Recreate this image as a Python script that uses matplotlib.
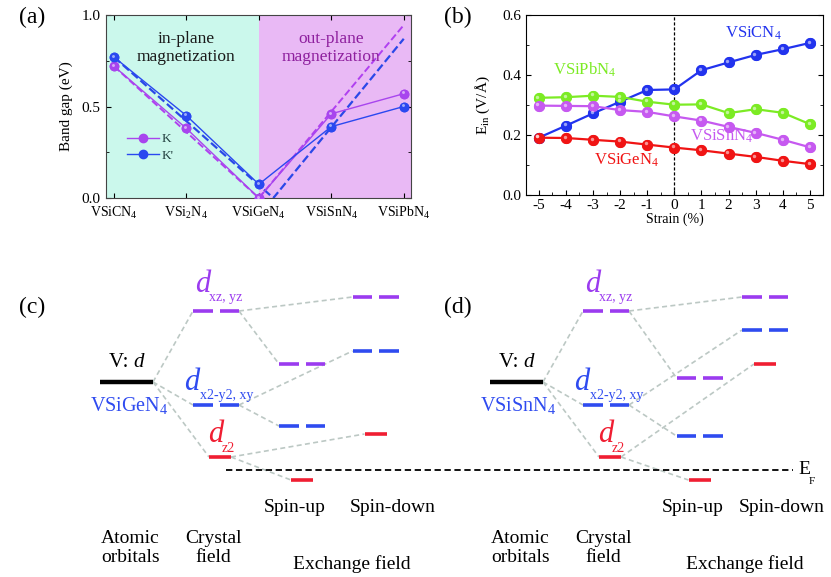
import numpy as np
import matplotlib.pyplot as plt
import matplotlib.transforms as mtransforms

plt.rcParams['font.family'] = ['Liberation Serif', 'DejaVu Serif']
plt.rcParams['mathtext.fontset'] = 'custom'
plt.rcParams['mathtext.rm'] = 'Liberation Serif'
plt.rcParams['mathtext.it'] = 'Liberation Serif:italic'

# ---- (a) band gaps ----
materials = ['VSiCN$_4$', 'VSi$_2$N$_4$', 'VSiGeN$_4$', 'VSiSnN$_4$', 'VSiPbN$_4$']
gap_K = [0.72, 0.38, 0.0, 0.46, 0.57]
gap_Kp = [0.77, 0.45, 0.075, 0.39, 0.50]
# linear guide lines (dashed)
guide_x_K = [0, 2, 4]
guide_K = [0.72, 0.0, 0.945]
guide_x_Kp = [0, 2.2, 4]
guide_Kp = [0.77, 0.0, 0.87]

# ---- (b) E_in vs strain ----
strain = [-5, -4, -3, -2, -1, 0, 1, 2, 3, 4, 5]
ein_CN = [0.191, 0.231, 0.272, 0.311, 0.350, 0.352, 0.416, 0.442, 0.467, 0.486, 0.507]
ein_Pb = [0.324, 0.326, 0.331, 0.327, 0.311, 0.301, 0.302, 0.273, 0.286, 0.274, 0.236]
ein_Sn = [0.298, 0.297, 0.296, 0.283, 0.277, 0.262, 0.248, 0.227, 0.207, 0.184, 0.159]
ein_Ge = [0.191, 0.190, 0.184, 0.178, 0.168, 0.158, 0.149, 0.138, 0.127, 0.114, 0.103]

# ---- (c)/(d) level schemes, energies relative to E_F (arb. units) ----
atomic_E = 8.8
crystal_E = [15.9, 6.5, 1.3]          # d_xz,yz ; d_x2-y2,xy ; d_z2
up_E_c = [10.6, 4.4, -1.0]
down_E_c = [17.3, 11.9, 3.6]
up_E_d = [9.2, 3.4, -1.0]
down_E_d = [17.3, 14.0, 10.6]
cols_c = [126.5, 216, 302, 375.5]     # atomic, crystal, spin-up, spin-down
cols_d = [516.5, 606, 699.5, 765]

c_pur = '#9B3BEF'
c_blu = '#2F4BF0'
c_red = '#F01E32'
lvl_colors = [c_pur, c_blu, c_red]


def balls(ax, x, y, color, ms):
    ax.plot(x, y, 'o', color=color, ms=ms, mec=color, zorder=4)
    off = mtransforms.offset_copy(ax.transData, fig=ax.figure, x=-0.9, y=0.9, units='points')
    ax.plot(x, y, 'o', color='white', ms=ms * 0.35, mec='none', alpha=0.55,
            transform=off, zorder=5)


fig = plt.figure(figsize=(8.31, 5.77), dpi=100)

# ================= (a) =================
ax1 = fig.add_axes([106 / 831, 1 - 198 / 577, 305 / 831, 183 / 577])
xa = np.arange(len(materials))
ax1.set_xlim(-0.11, 4.1)
ax1.set_ylim(0, 1.0)
ax1.axvspan(-0.11, xa[2], color='#CBF8EC', lw=0, zorder=0)
ax1.axvspan(xa[2], 4.1, color='#E9B9F5', lw=0, zorder=0)
ax1.plot(guide_x_K, guide_K, '--', color='#B040F0', lw=1.4, zorder=2)
ax1.plot(guide_x_Kp, guide_Kp, '--', color='#2A48E8', lw=1.6, zorder=2)
ax1.plot(xa, gap_K, '-', color='#A845EE', lw=1.0, label='K', marker='o', ms=6, zorder=3)
ax1.plot(xa, gap_Kp, '-', color='#2A48F0', lw=1.0, label="K'", marker='o', ms=6, zorder=3)
balls(ax1, xa, gap_K, '#A845EE', 6)
balls(ax1, xa, gap_Kp, '#2A48F0', 6)
ax1.set_xticks(xa)
ax1.set_xticklabels(materials, fontsize=10)
ax1.set_yticks([0, 0.5, 1.0])
ax1.set_yticklabels(['0.0', '0.5', '1.0'], fontsize=11)
ax1.set_yticks([0.25, 0.75], minor=True)
ax1.tick_params(axis='x', direction='in', top=True, length=3.5, pad=5)
ax1.tick_params(axis='y', direction='in', right=True, length=3.5, pad=4)
ax1.tick_params(which='minor', direction='in', right=True, length=2.5)
for s in ax1.spines.values():
    s.set_color('#444444')
ax1.set_ylabel('Band gap (eV)', fontsize=11, labelpad=6)
ax1.text(1.0, 0.82, 'in-plane\nmagnetization', ha='center', va='center',
         fontsize=12.5, color='#1A1A1A', linespacing=1.1)
ax1.text(3.0, 0.82, 'out-plane\nmagnetization', ha='center', va='center',
         fontsize=12.5, color='#8E1F9E', linespacing=1.1)
ax1.legend(loc='upper left', bbox_to_anchor=(0.03, 0.42), frameon=False,
           fontsize=9.5, handlelength=2.4, handletextpad=0.2, labelspacing=0.35,
           labelcolor='#224040')
fig.text(32 / 831, 1 - 17 / 577, '(a)', ha='center', va='center', fontsize=17)

# ================= (b) =================
ax2 = fig.add_axes([526 / 831, 1 - 195 / 577, 297 / 831, 180 / 577])
ax2.set_xlim(-5.47, 5.48)
ax2.set_ylim(0, 0.6)
ax2.axvline(0, color='black', ls='--', lw=0.9, dashes=(2.5, 1.5), zorder=1)
series = [(ein_CN, '#2233EE'), (ein_Pb, '#7CEB24'), (ein_Sn, '#C659F0'), (ein_Ge, '#F01414')]
for vals, col in series:
    ax2.plot(strain, vals, '-', color=col, lw=1.6, marker='o', ms=7, zorder=3)
    balls(ax2, strain, vals, col, 7)
ax2.set_xticks(strain)
ax2.set_xticklabels([str(s) for s in strain], fontsize=11)
ax2.set_xticks(np.arange(-5, 5.01, 0.5), minor=True)
ax2.set_yticks([0, 0.2, 0.4, 0.6])
ax2.set_yticklabels(['0.0', '0.2', '0.4', '0.6'], fontsize=11)
ax2.set_yticks([0.1, 0.3, 0.5], minor=True)
ax2.tick_params(direction='in', right=True, length=3.5, pad=3)
ax2.tick_params(which='minor', direction='in', right=True, length=2)
ax2.set_xlabel('Strain (%)', fontsize=10, labelpad=0)
ax2.set_ylabel(r'E$_{\rm in}$ (V/Å)', fontsize=11, labelpad=8)
ax2.text(2.9, 0.54, 'VSiCN$_4$', color='#2233EE', fontsize=12, ha='center', va='center')
ax2.text(-3.3, 0.417, 'VSiPbN$_4$', color='#7CEB24', fontsize=12, ha='center', va='center')
ax2.text(1.76, 0.195, 'VSiSnN$_4$', color='#C659F0', fontsize=12, ha='center', va='center')
ax2.text(-1.75, 0.117, 'VSiGeN$_4$', color='#F01414', fontsize=12, ha='center', va='center')
fig.text(458 / 831, 1 - 17 / 577, '(b)', ha='center', va='center', fontsize=17)

# ================= (c) and (d) =================
ax3 = fig.add_axes([0, 0, 1, 337 / 577])
ax3.set_xlim(0, 831)
ax3.set_ylim(-10.7, 23)
ax3.axis('off')

W2, GAP, W1, WA = 46, 7, 22, 53
conn = dict(color='#BCC8C4', ls='--', lw=1.2, dashes=(3, 2), zorder=1)


def level(x, E, color, degen):
    if degen:
        half = (W2 - GAP) / 2
        ax3.plot([x - W2 / 2, x - W2 / 2 + half], [E, E], color=color, lw=2.6, solid_capstyle='butt', zorder=3)
        ax3.plot([x + W2 / 2 - half, x + W2 / 2], [E, E], color=color, lw=2.6, solid_capstyle='butt', zorder=3)
        return x - W2 / 2, x + W2 / 2
    ax3.plot([x - W1 / 2, x + W1 / 2], [E, E], color=color, lw=2.6, solid_capstyle='butt', zorder=3)
    return x - W1 / 2, x + W1 / 2


def scheme(cols, up_E, down_E, name, tag, tag_x):
    xa_, xc, xu, xd = cols
    ax3.plot([xa_ - WA / 2, xa_ + WA / 2], [atomic_E, atomic_E], color='black', lw=3.2,
             solid_capstyle='butt', zorder=3)
    ax3.text(xa_ + 7, atomic_E + 1.0, 'V: ', ha='right', va='bottom', fontsize=15)
    ax3.text(xa_ + 7, atomic_E + 1.0, 'd', ha='left', va='bottom', fontsize=15, style='italic')
    ax3.text(xa_ - 37, atomic_E - 2.4, 'VSi' + name + 'N$_4$', ha='left', va='center',
             fontsize=14.5, color=c_blu)
    for i, E in enumerate(crystal_E):
        degen = i < 2
        cx = xc if degen else xc + 4
        l, r = level(cx, E, lvl_colors[i], degen)
        ax3.plot([xa_ + WA / 2, l], [atomic_E, E], **conn)
        lu, ru = level(xu, up_E[i], lvl_colors[i], degen)
        ld, rd = level(xd, down_E[i], lvl_colors[i], degen)
        ax3.plot([r, lu], [E, up_E[i]], **conn)
        ax3.plot([r, ld], [E, down_E[i]], **conn)
    # orbital labels
    labs = [('xz, yz', -13, -7, 2.6), ('x2-y2, xy', -24, -16, 2.3), ('z2', 0, 6, 2.2)]
    for (sub, dx, sx, dE), E, col in zip(labs, crystal_E, lvl_colors):
        ax3.text(xc + dx, E + dE, 'd', ha='center', va='center', fontsize=22,
                 style='italic', color=col)
        ax3.text(xc + sx, E + dE - 1.3, sub, ha='left', va='center', fontsize=10, color=col)
    ax3.text(xu - 7, -3.8, 'Spin-up', ha='center', va='center', fontsize=14)
    ax3.text(xd + 17, -3.8, 'Spin-down', ha='center', va='center', fontsize=14)
    ax3.text(xa_ + 4, -7.8, 'Atomic\norbitals', ha='center', va='center', fontsize=14,
             linespacing=1.2)
    ax3.text(xc - 3, -7.8, 'Crystal\nfield', ha='center', va='center', fontsize=14,
             linespacing=1.2)
    ax3.text((xu + xd) / 2 + 13, -9.4, 'Exchange field', ha='center', va='center', fontsize=14)
    ax3.text(tag_x, 16.3, tag, ha='center', va='center', fontsize=17)


scheme(cols_c, up_E_c, down_E_c, 'Ge', '(c)', 32)
scheme(cols_d, up_E_d, down_E_d, 'Sn', '(d)', 458)

ax3.plot([226, 793], [0, 0], color='black', ls='--', lw=1.3, dashes=(3.5, 2), zorder=2)
ax3.text(798, 0.1, 'E', ha='left', va='center', fontsize=14)
ax3.text(809, -1.2, 'F', ha='left', va='center', fontsize=8)

fig.savefig('out.png', dpi=100)
